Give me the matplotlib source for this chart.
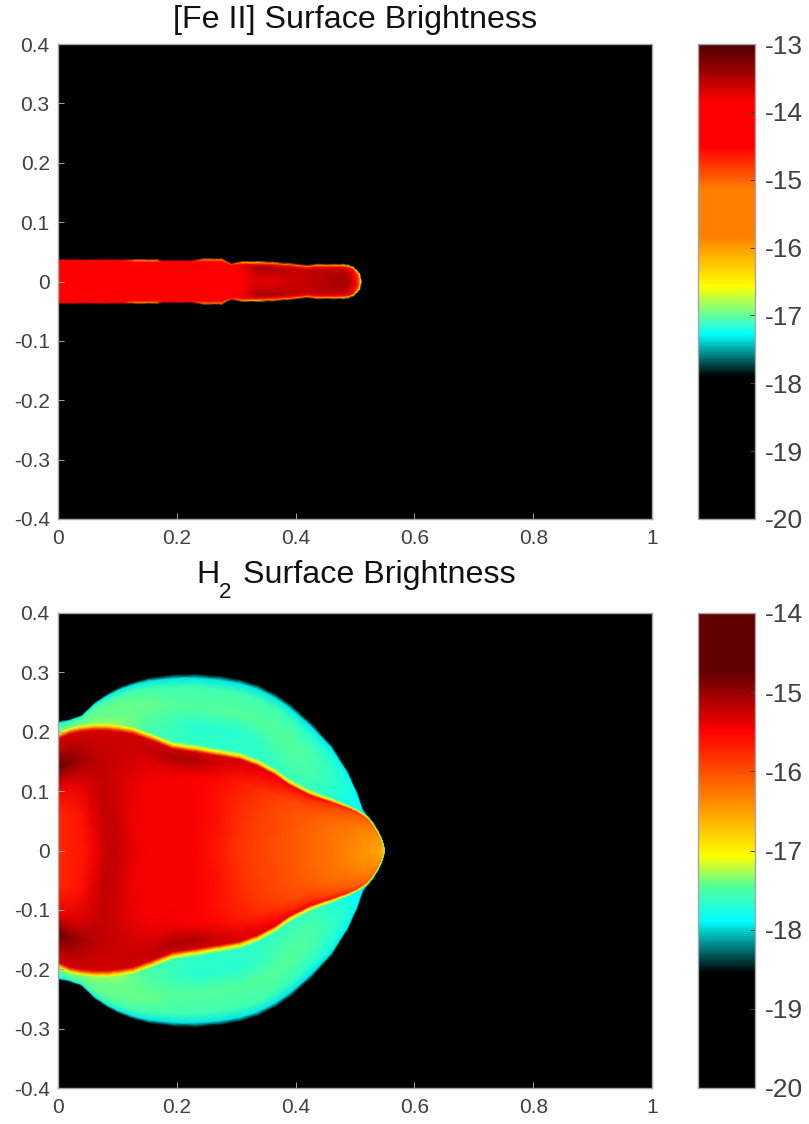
"""
Surface brightness maps of a jet bow shock: [Fe II] on top, H2 below.
"""

import numpy as np
import matplotlib
matplotlib.use('Agg')
import matplotlib.pyplot as plt
from matplotlib.cm import ScalarMappable
from matplotlib.colors import LinearSegmentedColormap, Normalize

plt.rcParams['font.family'] = ['Liberation Sans', 'DejaVu Sans']

# [Fe II] jet: half width at each x station, log brightness on fractions of it
fe_x = [0, .06, .11, .13, .165, .175, .20, .225, .245, .275, .292, .31, .335, .36, .385, .42, .435, .46, .48, .488, .497, .503, .508, .511]
fe_width = [.036, .036, .036, .036, .036, .0345, .0345, .0345, .0373, .0373, .0295, .0325, .0325, .0315, .0295, .026, .0278, .0278, .0278, .0267, .0233, .018, .0125, .0003]
fe_frac = [0, .45, .75, .9, 1]
fe_row_0 = [-14.2, -14.2, -14.2, -14.2, -14.2, -14.2, -14.2, -14.2, -14.2, -14.2, -14.2, -14.0, -13.7, -13.75, -13.65, -13.6, -13.55, -13.5, -13.45, -13.5, -13.6, -14.5, -15.6, -16.6]
fe_row_1 = [-14.2, -14.2, -14.2, -14.2, -14.2, -14.2, -14.2, -14.1, -14.1, -14.2, -14.2, -13.9, -13.6, -13.6, -13.6, -13.6, -13.55, -13.5, -13.5, -13.55, -13.8, -14.6, -15.7, -16.6]
fe_row_2 = [-14.2, -14.2, -14.2, -14.1, -14.1, -14.2, -14.1, -13.8, -13.8, -14.1, -14.1, -13.75, -13.45, -13.45, -13.55, -13.6, -13.6, -13.6, -13.6, -13.65, -14.0, -14.8, -15.8, -16.6]
fe_row_3 = [-14.2, -14.2, -14.1, -13.85, -13.85, -14.1, -14.2, -14.0, -14.0, -14.2, -14.3, -14.0, -13.9, -13.9, -14.0, -14.0, -14.0, -14.0, -14.0, -14.1, -14.5, -15.2, -16.0, -16.6]
fe_row_4 = [-14.2, -14.2, -14.3, -15.5, -15.6, -14.4, -14.2, -14.2, -15.5, -15.5, -14.8, -16.0, -16.2, -15.8, -15.6, -15.6, -16.0, -16.0, -16.2, -16.3, -16.4, -16.5, -16.6, -16.8]

# H2: stations with the inner bright rim and the outer shell edge
h2_x = [0, .02, .04, .06, .08, .10, .125, .155, .195, .23, .27, .305, .335, .365, .39, .425, .46, .487, .503, .514, .522, .53, .538, .544, .547, .549]
h2_inner = [.196, .205, .209, .211, .211, .209, .205, .194, .178, .173, .166, .16, .149, .133, .115, .097, .085, .075, .068, .061, .055, .045, .032, .02, .011, .002]
h2_outer = [.217, .221, .228, .248, .262, .273, .283, .291, .296, .297, .294, .288, .279, .264, .247, .216, .178, .135, .10, .068, .058, .049, .036, .024, .015, .004]

# H2 interior, log brightness at fractions of the rim height
h2_frac = [0, .3, .55, .72, .88, .96, .985, 1]
h2_row_0 = [-15.75, -15.7, -15.65, -15.5, -15.25, -15.2, -15.4, -15.5, -15.5, -15.5, -15.65, -15.85, -15.9, -16.0, -16.05, -16.15, -16.25, -16.35, -16.4, -16.45, -16.45, -16.5, -16.5, -16.6, -16.8, -17.5]
h2_row_1 = [-15.75, -15.7, -15.6, -15.35, -15.2, -15.25, -15.45, -15.5, -15.5, -15.5, -15.6, -15.8, -15.9, -15.95, -16.05, -16.15, -16.25, -16.3, -16.35, -16.4, -16.4, -16.45, -16.5, -16.55, -16.7, -17.3]
h2_row_2 = [-15.4, -15.4, -15.35, -15.25, -15.2, -15.3, -15.4, -15.5, -15.5, -15.5, -15.6, -15.75, -15.85, -15.95, -16.0, -16.1, -16.2, -16.25, -16.3, -16.35, -16.35, -16.4, -16.45, -16.5, -16.6, -17.0]
h2_row_3 = [-14.7, -14.9, -15.05, -15.15, -15.2, -15.25, -15.3, -15.4, -15.45, -15.5, -15.55, -15.65, -15.75, -15.85, -15.95, -16.0, -16.1, -16.15, -16.2, -16.25, -16.3, -16.35, -16.4, -16.45, -16.55, -16.9]
h2_row_4 = [-15.2, -15.2, -15.2, -15.25, -15.25, -15.25, -15.25, -15.2, -15.1, -15.1, -15.3, -15.4, -15.45, -15.55, -15.7, -15.8, -15.9, -16.0, -16.1, -16.15, -16.2, -16.25, -16.3, -16.4, -16.5, -16.8]
h2_row_5 = [-15.3, -15.3, -15.3, -15.3, -15.3, -15.3, -15.3, -15.3, -15.3, -15.3, -15.3, -15.3, -15.35, -15.4, -15.4, -15.5, -15.6, -15.7, -15.8, -15.9, -16.0, -16.1, -16.2, -16.3, -16.4, -16.6]
h2_row_6 = [-16.4, -16.4, -16.4, -16.4, -16.4, -16.4, -16.4, -16.4, -16.4, -16.4, -16.4, -16.4, -16.4, -16.4, -16.4, -16.4, -16.4, -16.4, -16.5, -16.5, -16.5, -16.6, -16.6, -16.7, -16.7, -16.8]
h2_row_7 = [-17.05, -17.05, -17.05, -17.05, -17.05, -17.05, -17.05, -17.05, -17.05, -17.05, -17.05, -17.05, -17.05, -17.05, -17.05, -17.05, -17.05, -17.05, -17.1, -17.15, -17.2, -17.25, -17.3, -17.35, -17.4, -17.5]

# H2 shell, log brightness at fractions of the way from rim to outer edge
shell_frac = [0, .05, .3, .55, .82, .95, 1]
shell_row_1 = [-17.3, -17.3, -17.3, -17.3, -17.3, -17.3, -17.4, -17.55, -17.6, -17.65, -17.65, -17.65, -17.65, -17.65, -17.6, -17.6, -17.7, -17.8, -17.85, -17.9, -17.9, -17.95, -17.95, -17.95, -18.0, -18.0]
shell_row_2 = [-17.4, -17.4, -17.4, -17.4, -17.4, -17.4, -17.4, -17.45, -17.6, -17.7, -17.7, -17.7, -17.65, -17.55, -17.5, -17.5, -17.65, -17.75, -17.85, -17.9, -17.95, -17.95, -18.0, -18.0, -18.0, -18.05]
shell_row_3 = [-17.45, -17.45, -17.42, -17.4, -17.4, -17.4, -17.4, -17.42, -17.45, -17.45, -17.45, -17.45, -17.45, -17.45, -17.45, -17.5, -17.65, -17.75, -17.85, -17.9, -17.95, -17.95, -18.0, -18.0, -18.0, -18.05]
shell_row_4 = [-17.75, -17.7, -17.6, -17.55, -17.55, -17.55, -17.55, -17.55, -17.55, -17.55, -17.55, -17.55, -17.55, -17.55, -17.6, -17.7, -17.75, -17.8, -17.9, -17.95, -17.95, -18.0, -18.0, -18.0, -18.0, -18.1]
shell_row_5 = [-18.0, -18.0, -17.95, -17.95, -17.95, -17.95, -17.95, -17.95, -17.95, -17.95, -17.95, -17.95, -17.95, -17.95, -17.95, -17.95, -17.95, -17.95, -18.0, -18.0, -18.0, -18.05, -18.05, -18.05, -18.1, -18.2]
shell_row_6 = [-18.7] * len(h2_x)

# colormap stops as (fraction from the bottom of the bar, colour)
fe_stops = [(0, '#000000'), (.30, '#000000'), (.388, '#00ffff'), (.49, '#ffff00'), (.595, '#ff8000'),
            (.693, '#ff8000'), (.784, '#ff0000'), (.882, '#ff0000'), (.94, '#a00000'), (1, '#500000')]
h2_stops = [(0, '#000000'), (.242, '#000000'), (.351, '#00ffff'), (.425, '#55ff99'), (.488, '#ffff00'),
            (.614, '#ff8000'), (.75, '#ff0000'), (.88, '#600000'), (1, '#600000')]

x_ticks = [0, .2, .4, .6, .8, 1]
y_ticks = [-.4, -.3, -.2, -.1, 0, .1, .2, .3, .4]
x_labels = ['0', '0.2', '0.4', '0.6', '0.8', '1']
y_labels = ['-0.4', '-0.3', '-0.2', '-0.1', '0', '0.1', '0.2', '0.3', '0.4']
fe_bar_ticks = [-20, -19, -18, -17, -16, -15, -14, -13]
h2_bar_ticks = [-20, -19, -18, -17, -16, -15, -14]

W, H = 809, 1124
GRAY = '#a6a6a6'
TEXT = '#404040'
TITLE = '#111111'


def box(left, top, width, height):
    return [left / W, 1 - (top + height) / H, width / W, height / H]


def draw_mesh(ax, x, lower, upper, frac, rows, cmap, norm):
    """Draws one band between two outlines, mirrored about y = 0."""
    x = np.array(x)
    lower = np.array(lower)
    upper = np.array(upper)
    frac = np.array(frac)
    xx = np.tile(x, (len(frac), 1))
    yy = lower + np.outer(frac, upper - lower)
    for sign in (1, -1):
        ax.pcolormesh(xx, sign * yy, np.array(rows), shading='gouraud', cmap=cmap, norm=norm, rasterized=True)


def style_axes(ax):
    ax.set_xlim(0, 1)
    ax.set_ylim(-.4, .4)
    ax.set_facecolor('black')
    ax.set_xticks(x_ticks, x_labels)
    ax.set_yticks(y_ticks, y_labels)
    ax.tick_params(direction='in', length=4, width=.7, color=GRAY, labelcolor=TEXT, labelsize=15, pad=6)
    ax.tick_params(axis='x', pad=7)
    for spine in ax.spines.values():
        spine.set_color(GRAY)
        spine.set_linewidth(1)


def add_bar(fig, pos, cmap, norm, ticks):
    cax = fig.add_axes(pos)
    bar = fig.colorbar(ScalarMappable(norm=norm, cmap=cmap), cax=cax, ticks=ticks)
    bar.ax.set_yticklabels([str(t) for t in ticks])
    bar.ax.tick_params(direction='in', length=3.6, width=.7, color='#404040', labelcolor=TEXT, labelsize=19, pad=7)
    bar.outline.set_edgecolor(GRAY)
    bar.outline.set_linewidth(1)


fig = plt.figure(figsize=(W / 100, H / 100), dpi=100)

# top panel
fe_cmap = LinearSegmentedColormap.from_list('fe', fe_stops, N=256)
fe_norm = Normalize(-20, -13)
ax1 = fig.add_axes(box(58, 44, 594, 475))
fe_widths = np.array(fe_width)
draw_mesh(ax1, fe_x, 0 * fe_widths, fe_widths, fe_frac,
          [fe_row_0, fe_row_1, fe_row_2, fe_row_3, fe_row_4], fe_cmap, fe_norm)
# thin soft edge from the rim out to black
draw_mesh(ax1, fe_x, fe_widths, fe_widths + .002, [0, 1],
          [fe_row_4, [-18] * len(fe_x)], fe_cmap, fe_norm)
style_axes(ax1)
ax1.set_title('[Fe II] Surface Brightness', fontsize=23.2, color=TITLE, pad=11.5)
add_bar(fig, box(698, 44, 57, 475), fe_cmap, fe_norm, fe_bar_ticks)

# bottom panel
h2_cmap = LinearSegmentedColormap.from_list('h2', h2_stops, N=256)
h2_norm = Normalize(-20, -14)
ax2 = fig.add_axes(box(58, 613, 594, 475))
h2_rim = np.array(h2_inner)
draw_mesh(ax2, h2_x, h2_rim, np.array(h2_outer), shell_frac,
          [h2_row_7, shell_row_1, shell_row_2, shell_row_3, shell_row_4, shell_row_5, shell_row_6], h2_cmap, h2_norm)
draw_mesh(ax2, h2_x, 0 * h2_rim, h2_rim, h2_frac,
          [h2_row_0, h2_row_1, h2_row_2, h2_row_3, h2_row_4, h2_row_5, h2_row_6, h2_row_7], h2_cmap, h2_norm)
style_axes(ax2)
# title in three pieces so the subscript sits as low as in the original
fig.text(196 / W, 1 - 583 / H, 'H', fontsize=23.2, color=TITLE, va='baseline')
fig.text(219 / W, 1 - 598 / H, '2', fontsize=16, color=TITLE, va='baseline')
fig.text(243 / W, 1 - 583 / H, 'Surface Brightness', fontsize=23.2, color=TITLE, va='baseline')
add_bar(fig, box(698, 613, 57, 475), h2_cmap, h2_norm, h2_bar_ticks)

fig.savefig('out.png', dpi=100)
